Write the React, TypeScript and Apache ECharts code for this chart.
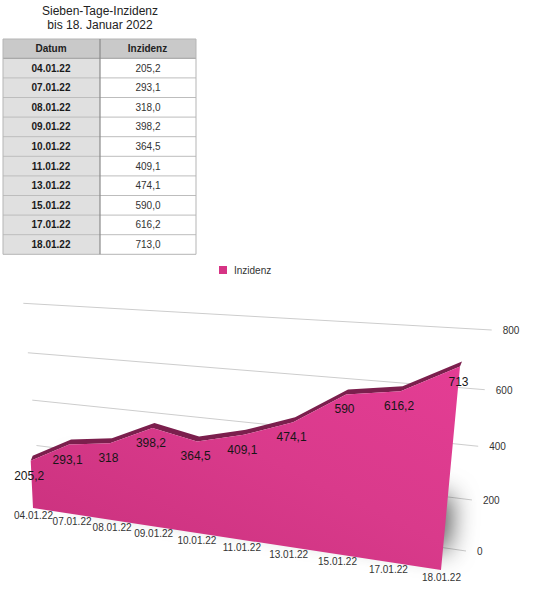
import { useEffect, useRef } from 'react';
import * as echarts from 'echarts';

// ---------- data ----------
const TITLE_LINES = ['Sieben-Tage-Inzidenz', 'bis 18. Januar 2022'];
const TABLE_HEADERS = ['Datum', 'Inzidenz'];
const CATEGORIES = ['04.01.22', '07.01.22', '08.01.22', '09.01.22', '10.01.22', '11.01.22', '13.01.22', '15.01.22', '17.01.22', '18.01.22'];
const VALUES = [205.2, 293.1, 318.0, 398.2, 364.5, 409.1, 474.1, 590.0, 616.2, 713.0];
const Y_TICKS = [0, 200, 400, 600, 800];
const SERIES_NAME = 'Inzidenz';

// ---------- style / layout ----------
const FONT = '"Liberation Sans", Arial, Helvetica, sans-serif';
const PINK = '#d93a8b';
const MAROON = '#7b1f4d';
const N = CATEGORIES.length;
const Y_MAX = Y_TICKS[Y_TICKS.length - 1];

type Pt = [number, number];

// projective map of the unit square onto a quad [p00, p10, p11, p01]
function quadMap(q: Pt[]) {
  const [x0, y0] = q[0], [x1, y1] = q[1], [x2, y2] = q[2], [x3, y3] = q[3];
  const dx1 = x1 - x2, dx2 = x3 - x2, dx3 = x0 - x1 + x2 - x3;
  const dy1 = y1 - y2, dy2 = y3 - y2, dy3 = y0 - y1 + y2 - y3;
  const den = dx1 * dy2 - dx2 * dy1;
  const g = (dx3 * dy2 - dx2 * dy3) / den;
  const h = (dx1 * dy3 - dx3 * dy1) / den;
  const a = x1 - x0 + g * x1, b = x3 - x0 + h * x3, c = x0;
  const d = y1 - y0 + g * y1, e = y3 - y0 + h * y3, f = y0;
  return (u: number, v: number): Pt => {
    const w = g * u + h * v + 1;
    return [(a * u + b * v + c) / w, (d * u + e * v + f) / w];
  };
}

// front face of the 3D area and the back wall carrying the grid
const FRONT = quadMap([[33, 508], [441, 570], [462.5, 339.8], [23.6, 314.2]]);
const BACK = quadMap([[40.5, 489], [466, 551], [491.7, 330], [23.3, 303.3]]);
const DEPTH: Pt = [2, -5];

function normFactory(api: any) {
  const o = api.coord([0, 0]);
  const m = api.coord([N - 1, Y_MAX]);
  return (i: number, v: number): Pt => {
    const p = api.coord([i, v]);
    return [(p[0] - o[0]) / (m[0] - o[0]), (o[1] - p[1]) / (o[1] - m[1])];
  };
}

const fmtLabel = (v: number) => (Number.isInteger(v) ? String(v) : v.toFixed(1).replace('.', ','));
const fmtTable = (v: number) => v.toFixed(1).replace('.', ',');

function buildTable() {
  const X0 = 3, XM = 100, X1 = 196, HY = 39, HH = 19.3, RH = 19.6;
  const els: any[] = [];
  const bodyTop = HY + HH;
  const bottom = bodyTop + RH * VALUES.length;
  TITLE_LINES.forEach((t, i) => {
    els.push({ type: 'text', x: 100, y: 10.5 + i * 14, style: { text: t, fill: '#222', fontSize: 12, fontFamily: FONT, align: 'center', verticalAlign: 'middle' } });
  });
  els.push({ type: 'rect', shape: { x: X0, y: HY, width: X1 - X0, height: HH }, style: { fill: '#c9c9c9' } });
  els.push({ type: 'rect', shape: { x: X0, y: bodyTop, width: XM - X0, height: bottom - bodyTop }, style: { fill: '#e0e0e0' } });
  els.push({ type: 'rect', shape: { x: XM, y: bodyTop, width: X1 - XM, height: bottom - bodyTop }, style: { fill: '#ffffff' } });
  CATEGORIES.forEach((c, i) => {
    const y = bodyTop + RH * i;
    els.push({ type: 'line', shape: { x1: X0, y1: y, x2: X1, y2: y }, style: { stroke: i === 0 ? '#9a9a9a' : '#bdbdbd', lineWidth: 1 } });
    els.push({ type: 'text', x: 51, y: y + RH / 2, style: { text: c, fill: '#1a1a1a', fontSize: 10, fontWeight: 'bold', fontFamily: FONT, align: 'center', verticalAlign: 'middle' } });
    els.push({ type: 'text', x: 148, y: y + RH / 2, style: { text: fmtTable(VALUES[i]), fill: '#333', fontSize: 10, fontFamily: FONT, align: 'center', verticalAlign: 'middle' } });
  });
  TABLE_HEADERS.forEach((h, i) => {
    els.push({ type: 'text', x: i === 0 ? 51 : 147.5, y: HY + HH / 2, style: { text: h, fill: '#222', fontSize: 10, fontWeight: 'bold', fontFamily: FONT, align: 'center', verticalAlign: 'middle' } });
  });
  els.push({ type: 'rect', shape: { x: X0, y: HY, width: X1 - X0, height: bottom - HY }, style: { fill: 'none', stroke: '#b5b5b5', lineWidth: 1 } });
  els.push({ type: 'line', shape: { x1: XM, y1: HY, x2: XM, y2: bottom }, style: { stroke: '#8a8a8a', lineWidth: 1.2 } });
  return els;
}

function buildOption(): any {
  return {
    animation: false,
    backgroundColor: '#ffffff',
    textStyle: { fontFamily: FONT },
    legend: {
      data: [SERIES_NAME],
      left: 219,
      top: 265,
      padding: 0,
      icon: 'rect',
      itemWidth: 8,
      itemHeight: 8,
      textStyle: { fontSize: 10, color: '#333', fontFamily: FONT, padding: [0, 0, 0, 2] },
    },
    grid: { left: 0, right: 0, top: 0, bottom: 0 },
    xAxis: { type: 'category', data: CATEGORIES, boundaryGap: false, show: false },
    yAxis: { type: 'value', min: 0, max: Y_MAX, interval: 200, show: false },
    graphic: buildTable(),
    series: [
      {
        type: 'custom',
        name: 'grid',
        z: 1,
        data: Y_TICKS.map((t) => [0, t]),
        renderItem: (params: any, api: any) => {
          const norm = normFactory(api);
          const t = api.value(1);
          const a = BACK(0, norm(0, t)[1]);
          const b = BACK(1, norm(N - 1, t)[1]);
          return {
            type: 'group',
            children: [
              { type: 'line', shape: { x1: a[0], y1: a[1], x2: b[0], y2: b[1] }, style: { stroke: '#cdcdcd', lineWidth: 1 } },
              { type: 'text', x: b[0] + 11, y: b[1] + 0.5, style: { text: String(t), fill: '#333', fontSize: 10, fontFamily: FONT, align: 'left', verticalAlign: 'middle' } },
            ],
          };
        },
      },
      {
        type: 'custom',
        name: SERIES_NAME,
        z: 2,
        itemStyle: { color: '#d63384' },
        data: VALUES.map((v, i) => [i, v]),
        renderItem: (params: any, api: any) => {
          if (params.dataIndex !== 0) return { type: 'group', children: [] };
          const norm = normFactory(api);
          const tops = VALUES.map((v, i) => { const [u, w] = norm(i, v); return FRONT(u, w); });
          const b0 = FRONT(...norm(0, 0));
          const b1 = FRONT(...norm(N - 1, 0));
          const backs = tops.map((p) => [p[0] + DEPTH[0], p[1] + DEPTH[1]]).reverse();
          const shadowPts = [FRONT(0.06, 0.05), FRONT(0.97, 0.05), FRONT(0.97, 0.3), FRONT(0.06, 0.22)];
          return {
            type: 'group',
            children: [
              {
                type: 'polygon',
                shape: { points: shadowPts },
                style: { fill: '#c0c0c0', shadowBlur: 26, shadowColor: 'rgba(0,0,0,0.7)', shadowOffsetX: 20, shadowOffsetY: -6 },
              },
              { type: 'polygon', shape: { points: [...tops, ...backs] }, style: { fill: MAROON } },
              {
                type: 'polygon',
                shape: { points: [b0, ...tops, b1] },
                style: {
                  fill: new echarts.graphic.LinearGradient(0, 1, 1, 0, [
                    { offset: 0, color: '#c8307c' },
                    { offset: 0.55, color: PINK },
                    { offset: 1, color: '#e43d94' },
                  ]),
                },
              },
            ],
          };
        },
      },
      {
        type: 'custom',
        name: 'valueLabels',
        z: 3,
        data: VALUES.map((v, i) => [i, v]),
        renderItem: (params: any, api: any) => {
          const norm = normFactory(api);
          const i = api.value(0), v = api.value(1);
          const p = FRONT(...norm(i, v));
          return { type: 'text', x: p[0] - 1.5, y: p[1] + 15, style: { text: fmtLabel(v), fill: '#161616', fontSize: 12, fontFamily: FONT, align: 'center', verticalAlign: 'middle' } };
        },
      },
      {
        type: 'custom',
        name: 'catLabels',
        z: 3,
        data: CATEGORIES.map((_, i) => [i, 0]),
        renderItem: (params: any, api: any) => {
          const norm = normFactory(api);
          const i = api.value(0);
          const p = FRONT(...norm(i, 0));
          return { type: 'text', x: p[0] + 0.5, y: p[1] + 7.5, style: { text: CATEGORIES[i], fill: '#333', fontSize: 10, fontFamily: FONT, align: 'center', verticalAlign: 'middle' } };
        },
      },
    ],
  };
}

export default function App() {
  const ref = useRef<HTMLDivElement>(null);
  useEffect(() => {
    document.body.style.margin = '0';
    const chart = echarts.init(ref.current!, null, { renderer: 'svg' });
    chart.setOption(buildOption());
    return () => chart.dispose();
  }, []);
  return <div ref={ref} style={{ width: 545, height: 599 }} />;
}
